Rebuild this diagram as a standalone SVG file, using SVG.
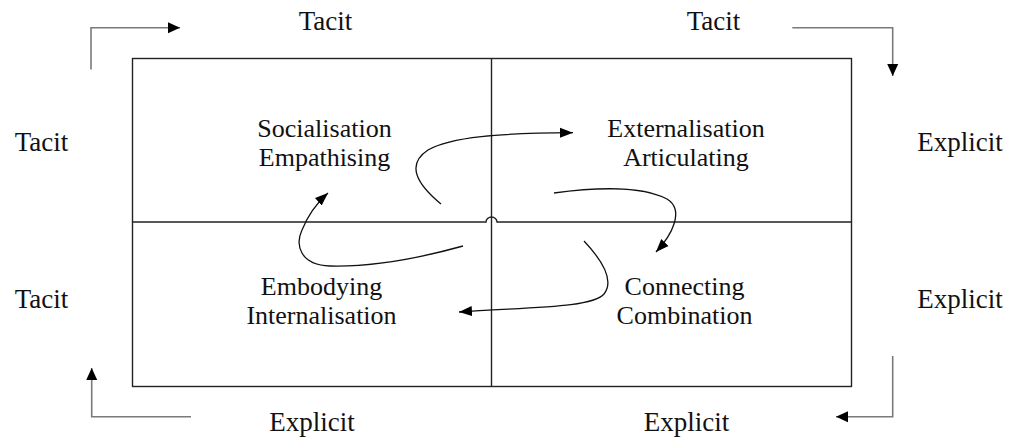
<svg xmlns="http://www.w3.org/2000/svg" width="1010" height="437" viewBox="0 0 1010 437">
<style>
text{font-family:"Liberation Serif","Times New Roman",serif;fill:#111;text-anchor:middle}
.in{font-size:26px}
.out{font-size:27px}
.frame{fill:none;stroke:#222;stroke-width:1.4}
.corner{fill:none;stroke:#7a7a7a;stroke-width:1.6}
.curve{fill:none;stroke:#111;stroke-width:1.3}
</style>
<defs>
<marker id="ah" markerUnits="userSpaceOnUse" markerWidth="14" markerHeight="12" viewBox="0 0 14 12" refX="13" refY="6" orient="auto">
<path d="M0,1 L13,6 L0,11 Z" fill="#000"/>
</marker>
<marker id="ah2" markerUnits="userSpaceOnUse" markerWidth="14" markerHeight="12" viewBox="0 0 14 12" refX="12" refY="6" orient="auto">
<path d="M0,0.5 L12,6 L0,11.5 Z" fill="#000"/>
</marker>
</defs>
<rect width="1010" height="437" fill="#fff"/>
<g id="frame">
<rect class="frame" x="132.5" y="58.5" width="719" height="328"/>
<line class="frame" x1="491.5" y1="58.5" x2="491.5" y2="386.5"/>
<path class="frame" d="M132.5,222 H486 A5.5,5 0 0 1 497,222 H851.5"/>
</g>
<g id="socialisation">
<text class="in" x="324.5" y="137">Socialisation</text>
<text class="in" x="324.5" y="166">Empathising</text>
</g>
<g id="externalisation">
<text class="in" x="686" y="137">Externalisation</text>
<text class="in" x="686" y="166">Articulating</text>
</g>
<g id="embodying">
<text class="in" x="321.5" y="295">Embodying</text>
<text class="in" x="321.5" y="324">Internalisation</text>
</g>
<g id="connecting">
<text class="in" x="684.5" y="295">Connecting</text>
<text class="in" x="684.5" y="324">Combination</text>
</g>
<g id="labels">
<text class="out" x="325.5" y="30">Tacit</text>
<text class="out" x="713.5" y="30">Tacit</text>
<text class="out" x="41.5" y="151">Tacit</text>
<text class="out" x="41.5" y="308">Tacit</text>
<text class="out" x="960" y="151">Explicit</text>
<text class="out" x="960" y="308">Explicit</text>
<text class="out" x="312" y="431">Explicit</text>
<text class="out" x="686.5" y="431">Explicit</text>
</g>
<g id="connectors">
<path class="corner" d="M91,69.5 V27.7 H180" marker-end="url(#ah2)"/>
<path class="corner" d="M792.3,27.7 H892.7 V76" marker-end="url(#ah2)"/>
<path class="corner" d="M892.7,356 V416.7 H836" marker-end="url(#ah2)"/>
<path class="corner" d="M191,416.7 H91.7 V368" marker-end="url(#ah2)"/>
<path class="curve" d="M441,204 C418,185 405,165 428,150 C450,137 500,133 573,132.7" marker-end="url(#ah)"/>
<path class="curve" d="M554,193 C590,188 640,185 667,199 C685,210 672,235 656,252" marker-end="url(#ah)"/>
<path class="curve" d="M584,241 C600,258 615,280 604,294 C592,308 530,307 459,312" marker-end="url(#ah)"/>
<path class="curve" d="M463,246 C420,258 370,267 330,266 C300,265 295,245 302,230 C308,215 318,202 328,193" marker-end="url(#ah)"/>
</g>
</svg>
